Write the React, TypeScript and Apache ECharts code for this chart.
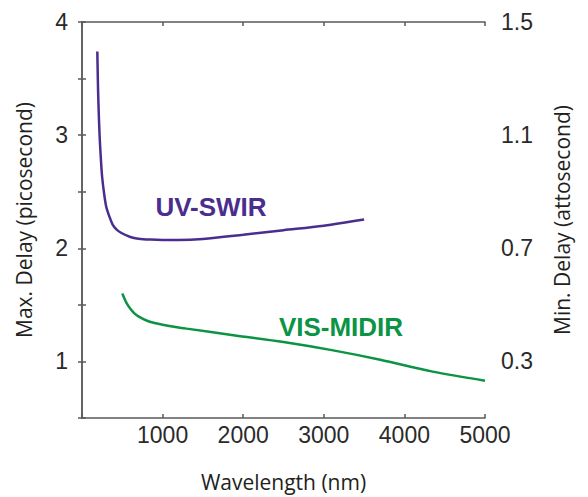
import React, { useEffect, useRef } from "react";
import * as echarts from "echarts";

// Wavelength (nm) vs. maximum delay (ps); minimum delay (as) is read on the right axis
const uvSwirWavelength = [190, 195, 200, 210, 220, 235, 250, 275, 300, 340, 380, 430, 490, 600, 700, 850, 1000, 1200, 1500, 2000, 2500, 3000, 3500];
const uvSwirDelay = [3.74, 3.55, 3.38, 3.15, 2.97, 2.78, 2.63, 2.48, 2.37, 2.28, 2.21, 2.165, 2.135, 2.1, 2.085, 2.077, 2.074, 2.074, 2.083, 2.12, 2.16, 2.2, 2.255];

const visMidirWavelength = [500, 550, 600, 650, 700, 800, 900, 1000, 1300, 1900, 2500, 3100, 3700, 4350, 5000];
const visMidirDelay = [1.6, 1.52, 1.465, 1.425, 1.398, 1.362, 1.34, 1.325, 1.29, 1.23, 1.172, 1.1, 1.015, 0.91, 0.83];

const xTicks = [1000, 2000, 3000, 4000, 5000];
const leftTicks = [1, 2, 3, 4];
const rightTicks = [0.3, 0.7, 1.1, 1.5];

const AXIS_COLOR = "#5a5a5a";
const TEXT_COLOR = "#2a2a2a";
const PURPLE = "#4a2d8f";
const GREEN = "#0b9444";

const pairs = (xs: number[], ys: number[]) => xs.map((x, i) => [x, ys[i]]);

const tickFont = { fontFamily: "Liberation Sans, Arial, sans-serif", fontSize: 23, color: TEXT_COLOR };
const nameFont = { fontFamily: "Open Sans, sans-serif", fontSize: 21, color: "#231f20" };

export default function App() {
  const ref = useRef<HTMLDivElement>(null);

  useEffect(() => {
    if (!ref.current) return;
    const chart = echarts.init(ref.current, null, { renderer: "svg" });

    const axisLine = { show: true, lineStyle: { color: AXIS_COLOR, width: 1.5 } };
    const axisTick = { show: true, inside: true, length: 4, lineStyle: { color: AXIS_COLOR, width: 1.5 } };

    chart.setOption({
      animation: false,
      backgroundColor: "#ffffff",
      grid: { left: 82, right: 103, top: 22, bottom: 72, containLabel: false },
      xAxis: [
        {
          type: "value",
          position: "bottom",
          min: 0,
          max: 5000,
          interval: 1000,
          axisLine,
          axisTick,
          splitLine: { show: false },
          axisLabel: {
            ...tickFont,
            margin: 5,
            formatter: (v: number) => (xTicks.includes(v) ? String(v) : ""),
          },
          name: "Wavelength (nm)",
          nameLocation: "middle",
          nameGap: 53,
          nameTextStyle: nameFont,
        },
        {
          type: "value",
          position: "top",
          min: 0,
          max: 5000,
          interval: 1000,
          axisLine,
          axisTick,
          splitLine: { show: false },
          axisLabel: { show: false },
        },
      ],
      yAxis: [
        {
          type: "value",
          position: "left",
          min: 0.5,
          max: 4,
          interval: 0.5,
          axisLine,
          axisTick,
          splitLine: { show: false },
          axisLabel: {
            ...tickFont,
            margin: 14,
            formatter: (v: number) => (leftTicks.includes(v) ? String(v) : ""),
          },
          name: "Max. Delay (picosecond)",
          nameLocation: "middle",
          nameRotate: 90,
          nameGap: 48,
          nameTextStyle: nameFont,
        },
        {
          type: "value",
          position: "right",
          min: 0.1,
          max: 1.5,
          interval: 0.2,
          axisLine,
          axisTick,
          splitLine: { show: false },
          axisLabel: {
            ...tickFont,
            margin: 16,
            formatter: (v: number) => {
              const r = Math.round(v * 10) / 10;
              return rightTicks.some((t) => Math.abs(t - r) < 1e-6) ? r.toFixed(1) : "";
            },
          },
          name: "Min. Delay (attosecond)",
          nameLocation: "middle",
          nameRotate: 90,
          nameGap: 66,
          nameTextStyle: nameFont,
        },
      ],
      series: [
        {
          name: "UV-SWIR",
          type: "line",
          xAxisIndex: 0,
          yAxisIndex: 0,
          data: pairs(uvSwirWavelength, uvSwirDelay),
          smooth: 0.3,
          showSymbol: false,
          lineStyle: { color: PURPLE, width: 2.5 },
        },
        {
          name: "VIS-MIDIR",
          type: "line",
          xAxisIndex: 0,
          yAxisIndex: 0,
          data: pairs(visMidirWavelength, visMidirDelay),
          smooth: 0.3,
          showSymbol: false,
          lineStyle: { color: GREEN, width: 2.5 },
        },
      ],
      graphic: [
        {
          type: "text",
          x: 211,
          y: 206.5,
          style: {
            text: "UV-SWIR",
            fill: PURPLE,
            font: "bold 26px Liberation Sans, Arial, sans-serif",
            textAlign: "center",
            textVerticalAlign: "middle",
          },
        },
        {
          type: "text",
          x: 341,
          y: 327,
          style: {
            text: "VIS-MIDIR",
            fill: GREEN,
            font: "bold 26px Liberation Sans, Arial, sans-serif",
            textAlign: "center",
            textVerticalAlign: "middle",
          },
        },
      ],
    });

    return () => chart.dispose();
  }, []);

  return (
    <div
      ref={ref}
      style={{ position: "fixed", left: 0, top: 0, width: 588, height: 497, background: "#fff" }}
    />
  );
}
